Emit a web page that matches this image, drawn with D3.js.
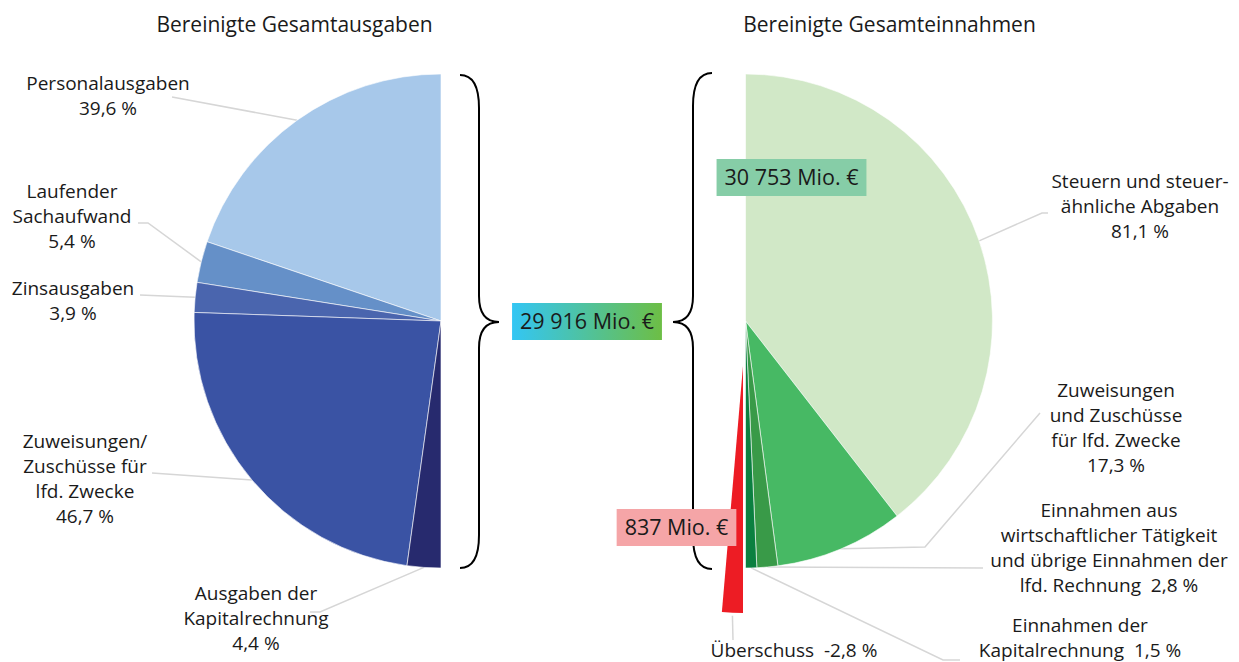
<!DOCTYPE html>
<html>
<head>
<meta charset="utf-8">
<script src="https://cdn.jsdelivr.net/npm/d3@7"></script>
<style>
  body { margin: 0; background: #fff; }
  text { font-family: "Open Sans", sans-serif; fill: #1a1a1a; white-space: pre; }
</style>
</head>
<body>
<div id="chart"></div>
<script>
const width = 1239
const height = 662

// Daten
const titel = ["Bereinigte Gesamtausgaben", "Bereinigte Gesamteinnahmen"]

const ausgabenNamen = [["Personalausgaben"], ["Laufender", "Sachaufwand"], ["Zinsausgaben"],
    ["Zuweisungen/", "Zuschüsse für", "lfd. Zwecke"], ["Ausgaben der", "Kapitalrechnung"]]
const ausgabenWerte = [39.6, 5.4, 3.9, 46.7, 4.4]
const ausgabenFarben = ["#a7c8ea", "#6590c8", "#4a65ae", "#3a53a4", "#272a6e"]

const einnahmenNamen = [["Steuern und steuer-", "ähnliche Abgaben"], ["Zuweisungen", "und Zuschüsse", "für lfd. Zwecke"],
    ["Einnahmen aus", "wirtschaftlicher Tätigkeit", "und übrige Einnahmen der", "lfd. Rechnung"], ["Einnahmen der", "Kapitalrechnung"]]
const einnahmenWerte = [81.1, 17.3, 2.8, 1.5]
const einnahmenFarben = ["#d1e8c7", "#47b964", "#399a48", "#0b8040"]

const ueberschussName = ["Überschuss"]
const ueberschussWert = -2.8
const ueberschussFarbe = "#ed1c24"

const summen = [29916, 30753, 837] // Mio. €

// Layout
const r = 247
const mitteL = [441, 321]
const mitteR = [745.5, 321]
const explode = [-2.5, 45]
const lh = 25

// Label: x, erste Grundlinie, Prozent inline?, Startpunkte der Führungslinie
const labelsL = [
    {x: 108, y: 90, inline: false, pts: [[172, 97]]},
    {x: 72, y: 198, inline: false, pts: [[138, 223], [148, 223]]},
    {x: 73, y: 295, inline: false, pts: [[140, 295]]},
    {x: 85, y: 448, inline: false, pts: [[152, 473]]},
    {x: 256, y: 600, inline: false, pts: [[310, 612], [320, 612]]}
]
const labelsR = [
    {x: 1140, y: 188, inline: false, pts: [[1048, 213], [1042, 213]]},
    {x: 1116, y: 397, inline: false, pts: [[1040, 413], [925, 547]]},
    {x: 1109, y: 517, inline: true, pts: [[983, 568]]},
    {x: 1080, y: 632, inline: true, pts: [[960, 660], [943, 660]]}
]
const labelU = {x: 794, y: 657, inline: true, pts: [[733, 640]]}

const locale = d3.formatLocale({decimal: ",", thousands: " ", grouping: [3], currency: ["", " €"], minus: "-"})
const fmtPct = d => locale.format(".1f")(d) + " %"
const fmtMio = d => locale.format(",d")(d) + " Mio. €"

const svg = d3.select("#chart").append("svg")
    .attr("width", width)
    .attr("height", height)

const defs = svg.append("defs")
const grad = defs.append("linearGradient").attr("id", "gradAus")
grad.append("stop").attr("offset", "0%").attr("stop-color", "#33c6f4")
grad.append("stop").attr("offset", "100%").attr("stop-color", "#6dbe45")

const leaderGroup = svg.append("g")
const pieGroup = svg.append("g")
const braceGroup = svg.append("g")
const boxGroup = svg.append("g")
const textGroup = svg.append("g")

// Pies
const arc = d3.arc().innerRadius(0).outerRadius(r)
const rand = d3.arc().innerRadius(r).outerRadius(r)

const pieL = d3.pie().sort(null).startAngle(0).endAngle(-Math.PI)(ausgabenWerte)
const pieR = d3.pie().sort(null).startAngle(0).endAngle(Math.PI)(einnahmenWerte)

const winkel = d3.scaleLinear().domain([0, d3.sum(einnahmenWerte)]).range([0, Math.PI])
const rotArc = {startAngle: winkel(d3.sum(einnahmenWerte)),
    endAngle: winkel(d3.sum(einnahmenWerte) - ueberschussWert)}

pieGroup.append("g").attr("transform", `translate(${mitteL})`)
    .selectAll("path").data(pieL).join("path")
    .attr("d", arc)
    .attr("fill", (d, i) => ausgabenFarben[i])
    .attr("stroke", "#fff").attr("stroke-width", 0.6)

pieGroup.append("g").attr("transform", `translate(${mitteR})`)
    .selectAll("path").data(pieR).join("path")
    .attr("d", arc)
    .attr("fill", (d, i) => einnahmenFarben[i])
    .attr("stroke", "#fff").attr("stroke-width", 0.6)

const rotG = pieGroup.append("g")
    .attr("transform", `translate(${mitteR[0] + explode[0]},${mitteR[1] + explode[1]})`)
rotG.append("path").attr("d", arc(rotArc)).attr("fill", ueberschussFarbe)

// Führungslinien
function leader(pts, ziel) {
    leaderGroup.append("path")
        .attr("d", d3.line()(pts.concat([ziel])))
        .attr("fill", "none")
        .attr("stroke", "#d6d6d6")
        .attr("stroke-width", 1.5)
}
pieL.forEach((d, i) => {
    const c = rand.centroid(d)
    leader(labelsL[i].pts, [c[0] + mitteL[0], c[1] + mitteL[1]])
})
pieR.forEach((d, i) => {
    const c = rand.centroid(d)
    leader(labelsR[i].pts, [c[0] + mitteR[0], c[1] + mitteR[1]])
})
{
    const c = rand.centroid(rotArc)
    leader(labelU.pts, [c[0] + mitteR[0] + explode[0], c[1] + mitteR[1] + explode[1] + 3])
}

// Beschriftungen
function label(lay, namen, wert) {
    const zeilen = namen.slice()
    if (lay.inline) zeilen[zeilen.length - 1] += "  " + fmtPct(wert)
    else zeilen.push(fmtPct(wert))
    const t = textGroup.append("text")
        .attr("text-anchor", "middle")
        .attr("font-size", 19)
    zeilen.forEach((z, k) => {
        t.append("tspan").attr("x", lay.x).attr("y", lay.y + k * lh).text(z)
    })
}
ausgabenNamen.forEach((n, i) => label(labelsL[i], n, ausgabenWerte[i]))
einnahmenNamen.forEach((n, i) => label(labelsR[i], n, einnahmenWerte[i]))
label(labelU, ueberschussName, ueberschussWert)

// Titel
textGroup.selectAll(".titel").data(titel).join("text")
    .attr("class", "titel")
    .attr("x", (d, i) => i === 0 ? 294.5 : 889.5)
    .attr("y", 32)
    .attr("text-anchor", "middle")
    .attr("font-size", 21)
    .text(d => d)

// Klammern
braceGroup.append("path")
    .attr("d", "M460,75 Q479,75 479,108 L479,296 Q479,322 499,322 Q479,322 479,348 L479,535 Q479,568 460,568")
    .attr("fill", "none").attr("stroke", "#000").attr("stroke-width", 2)
braceGroup.append("path")
    .attr("d", "M712,73 Q693,73 693,106 L693,296 Q693,322 673,322 Q693,322 693,348 L693,536 Q693,569 712,569")
    .attr("fill", "none").attr("stroke", "#000").attr("stroke-width", 2)

// Summen-Boxen
const boxen = [
    {cx: 587, cy: 321.5, fill: "url(#gradAus)", wert: summen[0]},
    {cx: 791.5, cy: 177.5, fill: "#86cda7", wert: summen[1]},
    {cx: 676.5, cy: 527.5, fill: "#f5a5a7", wert: summen[2]}
]
boxen.forEach(b => {
    const rect = boxGroup.append("rect")
    const t = boxGroup.append("text")
        .attr("x", b.cx).attr("y", b.cy + 7.5)
        .attr("text-anchor", "middle")
        .attr("font-size", 21.5)
        .text(fmtMio(b.wert))
    const w = t.node().getComputedTextLength() + 16
    rect.attr("x", b.cx - w / 2).attr("y", b.cy - 18.5)
        .attr("width", w).attr("height", 37)
        .attr("fill", b.fill)
})
</script>
</body>
</html>
